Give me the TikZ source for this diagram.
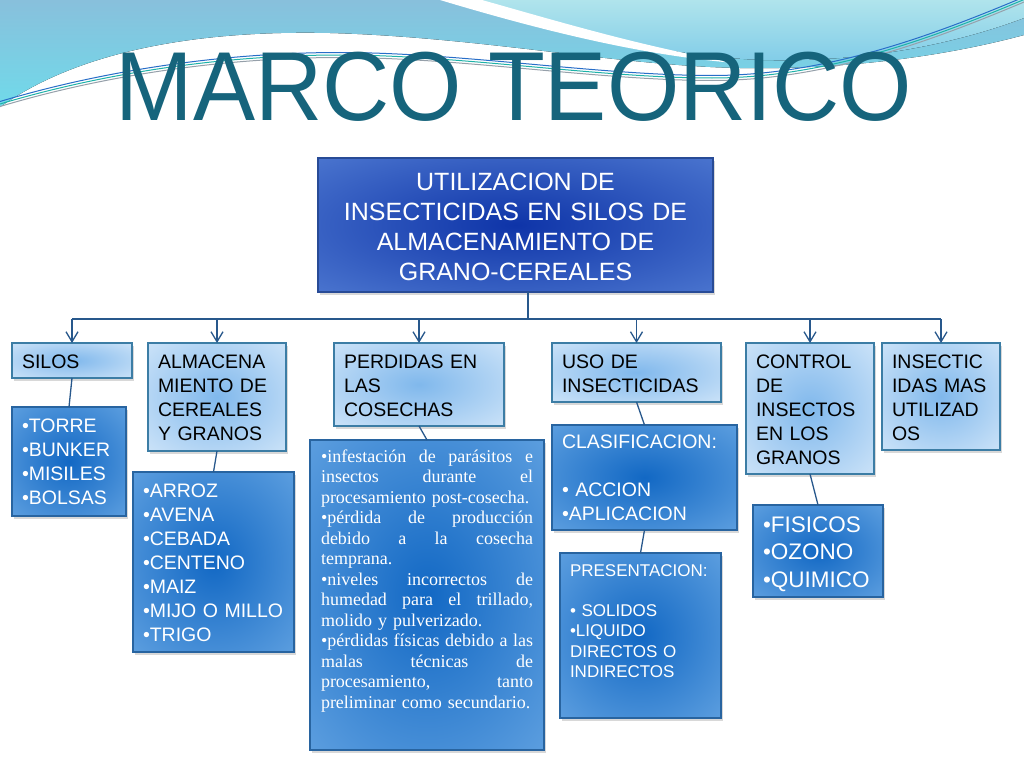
\documentclass[tikz,border=0pt]{standalone}
\usepackage{fontspec}
\setmainfont{Liberation Sans}
\newfontfamily\cuerpo{Liberation Serif}
\usetikzlibrary{arrows.meta,shadows}

\definecolor{titulo}{RGB}{22,100,124}
\definecolor{olaalta}{RGB}{136,192,220}
\definecolor{olabaja}{RGB}{112,218,234}
\definecolor{cielo}{RGB}{176,228,236}
\definecolor{cielob}{RGB}{128,204,232}
\definecolor{hiloverde}{RGB}{30,178,168}
\definecolor{hiloazul}{RGB}{40,110,200}
\definecolor{hilogris}{RGB}{150,160,170}
\definecolor{linea}{RGB}{40,88,140}
\definecolor{bordeclaro}{RGB}{60,125,165}
\definecolor{bordeazul}{RGB}{40,100,160}
\definecolor{bordeosc}{RGB}{40,75,150}
\definecolor{claroin}{RGB}{128,184,236}
\definecolor{claroout}{RGB}{234,244,253}
\definecolor{azulin}{RGB}{18,104,196}
\definecolor{azulout}{RGB}{122,180,234}
\definecolor{oscin}{RGB}{14,52,168}
\definecolor{oscout}{RGB}{98,142,222}

\pgfdeclareradialshading{brilloclaro}{\pgfpointorigin}{color(0bp)=(claroin); color(50bp)=(claroout)}
\pgfdeclareradialshading{brilloazul}{\pgfpointorigin}{color(0bp)=(azulin); color(50bp)=(azulout)}
\pgfdeclareradialshading{brillooscuro}{\pgfpointorigin}{color(0bp)=(oscin); color(50bp)=(oscout)}

% linea justificada
\newcommand{\justa}[1]{\leavevmode\hbox to 212pt{\spaceskip=0pt\xspaceskip=0pt #1}}

\begin{document}
\begin{tikzpicture}[x=1pt,y=-1pt,
  caja/.style={anchor=north west, inner ysep=0pt, inner xsep=10pt, outer sep=0pt, align=left, line width=1.4pt,
    drop shadow={shadow xshift=2pt, shadow yshift=-3pt, opacity=0.3}},
  headbox/.style={caja, align=center, draw=bordeosc, shading=brillooscuro, text=white, font=\fontsize{25}{30}\selectfont},
  palebox/.style={caja, draw=bordeclaro, shading=brilloclaro, text=black, font=\fontsize{19.5}{24}\selectfont},
  bluebox/.style={caja, draw=bordeazul, shading=brilloazul, text=white, font=\fontsize{19.5}{24}\selectfont},
  link/.style={draw=linea, line width=1.3pt}]
\useasboundingbox (0,0) rectangle (1024,768);
\fill[white] (0,0) rectangle (1024,768);

%ola
\fill[top color=olaalta, bottom color=olabaja] (0,0) -- (1024,0) -- (1024,35) .. controls (950,55) and (850,70) .. (740,68) .. controls (620,66) and (480,37) .. (330,33) .. controls (200,30) and (80,50) .. (0,107) -- cycle;
\fill[top color=cielo, bottom color=cielob] (455,0) .. controls (560,30) and (660,55) .. (760,60) .. controls (870,63) and (960,42) .. (1024,18) -- (1024,0) -- cycle;
\fill[white] (440,0) .. controls (540,30) and (640,55) .. (735,63) .. controls (640,46) and (560,22) .. (482,0) -- cycle;
\foreach \d/\c in {0/hiloverde,2.5/hiloazul,-2.5/hilogris}{
	\draw[\c, line width=1pt, yshift=\d pt] (0,104) .. controls (100,74) and (220,55) .. (340,55) .. controls (460,55) and (600,78) .. (712,78) .. controls (830,78) and (940,35) .. (1030,-3);
}

%titulo
\node[anchor=base, text=titulo, font=\fontsize{98}{98}\selectfont] (titulo) at (514,120) {\scalebox{0.95}[1]{MARCO TEORICO}};

%raiz
\node[headbox, text width=375pt, text height=32pt, text depth=102pt] (raiz) at (318,158) {UTILIZACION DE\\INSECTICIDAS EN SILOS DE\\ALMACENAMIENTO DE\\GRANO-CEREALES};

%nivel 2
\node[palebox, text width=100pt, text height=25pt, text depth=10pt] (silos) at (12,343) {SILOS};
\node[palebox, text width=118pt, text height=25pt, text depth=83pt] (almacen) at (148,343) {ALMACENA\\MIENTO DE\\CEREALES\\Y GRANOS};
\node[palebox, text width=150pt, text height=25pt, text depth=58pt] (perdidas) at (334,343) {PERDIDAS EN\\LAS\\COSECHAS};
\node[palebox, text width=149pt, text height=25pt, text depth=34pt] (uso) at (552,343) {USO DE\\INSECTICIDAS};
\node[palebox, text width=108pt, text height=25pt, text depth=106pt] (control) at (746,343) {CONTROL\\DE\\INSECTOS\\EN LOS\\GRANOS};
\node[palebox, text width=98pt, text height=25pt, text depth=82pt] (insectic) at (882,343) {INSECTIC\\IDAS MAS\\UTILIZAD\\OS};

%nivel 3
\node[bluebox, text width=94pt, text height=25pt, text depth=84pt] (torre) at (12,407) {•TORRE\\•BUNKER\\•MISILES\\•BOLSAS};
\node[bluebox, text width=141pt, text height=25pt, text depth=155pt] (arroz) at (133,472) {•ARROZ\\•AVENA\\•CEBADA\\•CENTENO\\•MAIZ\\•MIJO O MILLO\\•TRIGO};
\node[bluebox, inner xsep=11pt, text width=212pt, text height=22pt, text depth=288pt, font=\cuerpo\fontsize{18}{20.5}\selectfont] (infest) at (310,440) {%
\justa{•infestación de parásitos e}\\
\justa{insectos durante el}\\
procesamiento post-cosecha.\\
\justa{•pérdida de producción}\\
\justa{debido a la cosecha}\\
temprana.\\
\justa{•niveles incorrectos de}\\
\justa{humedad para el trillado,}\\
molido y pulverizado.\\
\justa{•pérdidas físicas debido a las}\\
\justa{malas técnicas de}\\
\justa{procesamiento, tanto}\\
preliminar como secundario.};
\node[bluebox, text width=165pt, text height=23pt, text depth=82pt] (clasif) at (552,425) {CLASIFICACION:\\[24.5pt]• ACCION\\•APLICACION};
\node[bluebox, text width=141pt, text height=23pt, text depth=142pt, font=\fontsize{17}{20.3}\selectfont] (present) at (560,553) {PRESENTACION:\\[20.3pt]• SOLIDOS\\•LIQUIDO\\DIRECTOS O\\INDIRECTOS};
\node[bluebox, text width=110pt, text height=27pt, text depth=65pt, font=\fontsize{22.5}{27.5}\selectfont] (fisicos) at (753,505) {•FISICOS\\•OZONO\\•QUIMICO};

%conectores
\coordinate (bus) at (528,319);
\draw[link] (raiz.south -| bus) -- (bus);
\draw[link] (silos.north |- bus) -- (insectic.north |- bus);
\foreach \n in {silos,almacen,perdidas,uso,control,insectic}{
	\draw[link, -{Straight Barb[length=10pt,width=12pt]}] (\n.north |- bus) -- (\n.north);
}
\draw[link] (silos.south) -- (torre.north);
\draw[link] (almacen.south) -- (arroz.north);
\draw[link] (perdidas.south) -- (infest.north);
\draw[link] (uso.south) -- (clasif.north);
\draw[link] (clasif.south) -- (present.north);
\draw[link] (control.south) -- (fisicos.north);

\end{tikzpicture}
\end{document}
